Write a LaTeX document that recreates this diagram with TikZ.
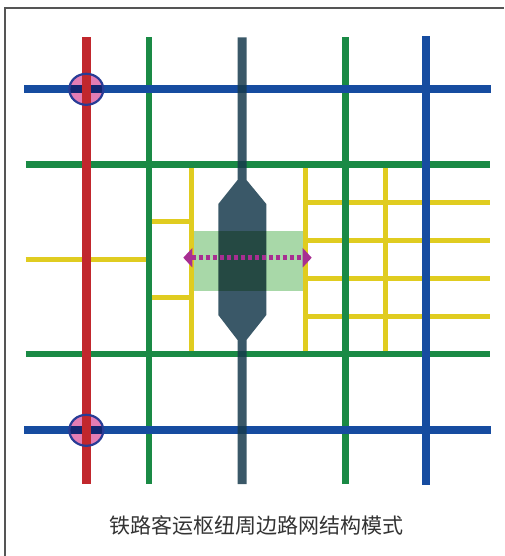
\documentclass[tikz,border=0pt]{standalone}
\usepackage{fontspec}
\usepackage{tikz}
\usetikzlibrary{arrows.meta}
\newfontfamily\cjk{Noto Sans CJK SC}

\definecolor{rdred}{RGB}{193,39,45}
\definecolor{rdgreen}{RGB}{26,138,69}
\definecolor{rdblue}{RGB}{22,76,160}
\definecolor{rdslate}{RGB}{23,59,77}
\definecolor{rdyellow}{RGB}{224,204,32}
\definecolor{rdpink}{RGB}{228,125,180}
\definecolor{rdring}{RGB}{40,60,150}
\definecolor{rdmagenta}{RGB}{168,46,146}
\definecolor{rdbox}{RGB}{168,216,168}
\definecolor{rdframe}{RGB}{85,85,85}
\definecolor{rdtext}{RGB}{51,51,51}

\begin{document}
\begin{tikzpicture}[x=1pt,y=-1pt,
    railway/.style={rdred,line width=8.5pt},
    arterial/.style={rdblue,line width=8pt},
    collector/.style={rdgreen,line width=6.5pt},
    branchrd/.style={rdyellow,line width=5pt},
    station/.style={fill=rdpink,blend mode=multiply}]
    \useasboundingbox(0,0)rectangle(504,556);
    \draw[rdframe,line width=1.2pt](5,556)--(5,8)--(504,8);

    % branch roads
    \draw[branchrd](25.7,259.7)--(149,259.7);
    \draw[branchrd](149,221.7)--(191.7,221.7);
    \draw[branchrd](149,297.3)--(191.7,297.3);
    \foreach \x in {191.7,305.7,385.7}
        \draw[branchrd](\x,164.7)--(\x,354);
    \foreach \y in {202.7,240.7,278.3,316.3}
        \draw[branchrd](305.7,\y)--(490,\y);

    % collector roads
    \draw[collector](25.7,164.7)--(490,164.7);
    \draw[collector](25.7,354)--(490,354);
    \draw[collector](149,37.3)--(149,484);
    \draw[collector](345.7,37.3)--(345.7,484);

    % arterial roads
    \draw[arterial](24.3,89.3)--(491.3,89.3);
    \draw[arterial](24.3,430.3)--(491.3,430.3);
    \draw[arterial](425.7,36.3)--(425.7,485);

    % stations on the railway
    \fill[station](86.3,89.3)ellipse(17 and 15.5);
    \fill[station](86.3,430.3)ellipse(17 and 15.5);
    \draw[railway](86.3,37.3)--(86.3,484);
    \draw[rdring,line width=2.2pt](86.3,89.3)ellipse(17 and 15.5);
    \draw[rdring,line width=2.2pt](86.3,430.3)ellipse(17 and 15.5);

    % hub
    \fill[rdslate,opacity=0.85](237.5,37.3)--(237.5,180)--(218.3,204)--(218.3,315)--(237.5,340)
        --(237.5,484)--(246.5,484)--(246.5,340)--(266.3,315)--(266.3,204)--(246.5,180)
        --(246.5,37.3)--cycle;
    \fill[rdbox,blend mode=multiply](194.3,230.7)rectangle(303.3,290.7);
    \draw[rdmagenta,line width=4.5pt,dash pattern=on 4pt off 3pt,
        {Triangle[length=9pt,width=19pt]}-{Triangle[length=9pt,width=19pt]}]
        (183.3,257.7)--(311.7,257.7);

    \node[text=rdtext,font=\cjk\fontsize{21}{21}\selectfont](caption)at(256,525){铁路客运枢纽周边路网结构模式};
\end{tikzpicture}
\end{document}
